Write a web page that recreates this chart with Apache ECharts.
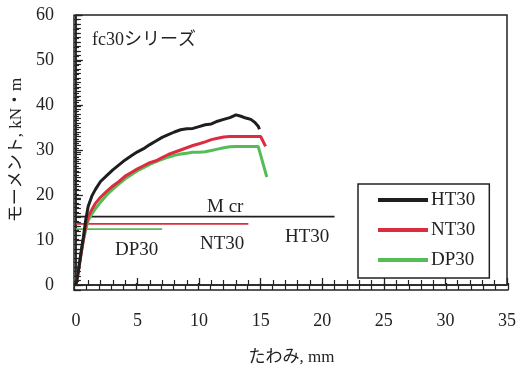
<!DOCTYPE html>
<html><head><meta charset="utf-8">
<script src="https://cdn.jsdelivr.net/npm/echarts@6/dist/echarts.min.js"></script>
<style>html,body{margin:0;padding:0;background:#fff}#wrap{position:relative;width:519px;height:371px}#c,#t{position:absolute;left:0;top:0;width:519px;height:371px}#t{pointer-events:none;z-index:2}</style>
</head><body><div id="wrap"><div id="c"></div><div id="t"></div></div>
<script>
const seriesNames = ['HT30', 'NT30', 'DP30'];
const htX = [0, 0.2, 0.4, 0.6, 0.8, 1.0, 1.3, 1.6, 2.0, 2.5, 3.0, 3.5, 4.0, 4.5, 5.0, 5.5, 6.0, 6.5, 7.0, 7.5, 8.0, 8.5, 9.0, 9.5, 10.0, 10.5, 11.0, 11.5, 12.0, 12.5, 13.0, 13.4, 13.8, 14.2, 14.5, 14.8, 14.9];
const htY = [0, 3, 7, 10.5, 14.5, 17.5, 19.8, 21.3, 23, 24.3, 25.6, 26.7, 27.8, 28.7, 29.6, 30.3, 31.2, 32, 32.8, 33.4, 34, 34.5, 34.7, 34.8, 35.2, 35.6, 35.8, 36.4, 36.8, 37.2, 37.8, 37.5, 37.1, 36.8, 36.2, 35.3, 34.6];
const ntX = [0, 0.2, 0.4, 0.6, 0.8, 1.0, 1.3, 1.6, 2.0, 2.5, 3.0, 3.5, 4.0, 4.5, 5.0, 5.5, 6.0, 6.5, 7.0, 7.5, 8.0, 8.5, 9.0, 9.5, 10.0, 10.5, 11.0, 11.5, 12.0, 12.5, 13.0, 14.0, 15.0, 15.4];
const ntY = [0, 3, 6.5, 10, 13, 15.2, 16.8, 18.2, 19.5, 20.8, 22, 23, 24.2, 25, 25.8, 26.5, 27.2, 27.6, 28.3, 29, 29.5, 30, 30.5, 31, 31.4, 31.8, 32.3, 32.6, 32.9, 33, 33, 33, 33, 30.8];
const dpX = [0, 0.15, 0.3, 0.45, 0.6, 0.8, 1.0, 1.3, 1.6, 2.0, 2.5, 3.0, 3.5, 4.0, 4.5, 5.0, 5.5, 6.0, 6.5, 7.0, 7.5, 8.0, 8.5, 9.0, 9.5, 10.0, 10.5, 11.0, 11.5, 12.0, 12.5, 13.0, 14.0, 14.8, 15.5];
const dpY = [0, 2.5, 5, 7.5, 9.8, 12.3, 14.3, 15.8, 17, 18.4, 20, 21.3, 22.5, 23.6, 24.5, 25.4, 26.1, 26.8, 27.4, 27.9, 28.4, 28.8, 29.1, 29.3, 29.5, 29.5, 29.6, 29.9, 30.2, 30.5, 30.7, 30.8, 30.8, 30.8, 24];
// Mcr lines: [value, end deflection]
const mcrHT = [15.2, 21];
const mcrNT = [13.6, 14];
const mcrDP = [12.4, 7];
const xTicks = [0, 5, 10, 15, 20, 25, 30, 35];
const yTicks = [0, 10, 20, 30, 40, 50, 60];

const colors = {HT30: '#1e1e1e', NT30: '#dc2c40', DP30: '#55bd55'};
const serif = '"Liberation Serif", "Noto Sans CJK JP", serif';
const zip = (a, b) => a.map((v, i) => [v, b[i]]);
const mcrLine = (m, c) => ({
  type: 'line', data: [[0, m[0]], [m[1], m[0]]], showSymbol: false, symbol: 'none',
  lineStyle: {color: c, width: 1.8}, itemStyle: {color: c}, silent: true, z: 1
});
const xMin = xTicks[0], xMax = xTicks[xTicks.length - 1];
const yMin = yTicks[0], yMax = yTicks[yTicks.length - 1];
const gridBox = {left: 74, right: 11, top: 15, bottom: 81};

const chart = echarts.init(document.getElementById('c'), null, {renderer: 'canvas'});
chart.setOption({
  animation: false,
  backgroundColor: '#fff',
  grid: Object.assign({show: true, borderColor: '#222', borderWidth: 1.5, backgroundColor: 'transparent'}, gridBox),
  xAxis: {
    type: 'value', min: xMin, max: xMax, interval: 5,
    name: 'たわみ, mm', nameLocation: 'middle', nameGap: 64,
    nameTextStyle: {fontFamily: serif, fontSize: 17, color: '#222'},
    axisLine: {show: true, lineStyle: {color: '#222', width: 1.5}},
    axisTick: {show: true, inside: true, length: 7, lineStyle: {color: '#222', width: 1.3}},
    minorTick: {show: true, splitNumber: 5, length: 5, lineStyle: {color: '#222', width: 1.2}},
    axisLabel: {show: true, fontFamily: serif, fontSize: 18, color: '#222', margin: 27},
    splitLine: {show: false}
  },
  yAxis: {
    type: 'value', min: yMin, max: yMax, interval: 10,
    name: 'モーメント, kN・m', nameLocation: 'middle', nameGap: 47,
    nameTextStyle: {fontFamily: serif, fontSize: 17, color: '#222'},
    axisLine: {show: true, lineStyle: {color: '#222', width: 1.5}},
    axisTick: {show: true, inside: true, length: 7, lineStyle: {color: '#222', width: 1.3}},
    minorTick: {show: true, splitNumber: 10, length: 5, lineStyle: {color: '#222', width: 1.2}},
    axisLabel: {show: true, fontFamily: serif, fontSize: 18, color: '#222', margin: 22},
    splitLine: {show: false}
  },
  legend: {
    data: seriesNames, orient: 'vertical', left: 358, top: 184,
    backgroundColor: '#fff', borderColor: '#222', borderWidth: 1.5,
    padding: [6, 14, 8, 20], itemGap: 10, itemWidth: 50, itemHeight: 4, icon: 'rect',
    textStyle: {fontFamily: serif, fontSize: 19, color: '#222', lineHeight: 20, padding: [0, 0, 0, -2]}
  },
  series: [
    mcrLine(mcrHT, colors.HT30),
    mcrLine(mcrNT, colors.NT30),
    mcrLine(mcrDP, colors.DP30),
    {name: 'DP30', type: 'line', data: zip(dpX, dpY), showSymbol: false, symbol: 'none', lineStyle: {color: colors.DP30, width: 3}, itemStyle: {color: colors.DP30}, z: 3},
    {name: 'NT30', type: 'line', data: zip(ntX, ntY), showSymbol: false, symbol: 'none', lineStyle: {color: colors.NT30, width: 3}, itemStyle: {color: colors.NT30}, z: 4},
    {name: 'HT30', type: 'line', data: zip(htX, htY), showSymbol: false, symbol: 'none', lineStyle: {color: colors.HT30, width: 3}, itemStyle: {color: colors.HT30}, z: 5}
  ],
  graphic: [
    {type: 'text', left: 92, top: 31, style: {text: 'fc30シリーズ', font: '18px ' + serif, fill: '#222'}},
    {type: 'text', left: 207, top: 198, style: {text: 'M cr', font: '19px ' + serif, fill: '#222'}},
    {type: 'text', left: 115, top: 241, style: {text: 'DP30', font: '19px ' + serif, fill: '#222'}},
    {type: 'text', left: 200, top: 235, style: {text: 'NT30', font: '19px ' + serif, fill: '#222'}},
    {type: 'text', left: 285, top: 228, style: {text: 'HT30', font: '19px ' + serif, fill: '#222'}}
  ]
});

// transparent overlay instance that draws the inward tick marks on the same scales
const ticks = echarts.init(document.getElementById('t'));
ticks.setOption({
  animation: false,
  backgroundColor: 'transparent',
  grid: Object.assign({}, gridBox),
  xAxis: {type: 'value', min: xMin, max: xMax, interval: 5,
    axisLine: {show: true, lineStyle: {color: '#222', width: 1.5}},
    axisTick: {show: true, inside: true, length: 7, lineStyle: {color: '#222', width: 1.3}},
    minorTick: {show: true, splitNumber: 5, length: 5, lineStyle: {color: '#222', width: 1.2}},
    axisLabel: {color: 'rgba(0,0,0,0)'}, splitLine: {show: false}},
  yAxis: {type: 'value', min: yMin, max: yMax, interval: 10,
    axisLine: {show: true, lineStyle: {color: '#222', width: 1.5}},
    axisTick: {show: true, inside: true, length: 7, lineStyle: {color: '#222', width: 1.3}},
    minorTick: {show: true, splitNumber: 10, length: 5, lineStyle: {color: '#222', width: 1.2}},
    axisLabel: {color: 'rgba(0,0,0,0)'}, splitLine: {show: false}},
  series: [{type: 'line', data: zip(htX, htY), lineStyle: {opacity: 0}, itemStyle: {opacity: 0}}]
});
</script></body></html>
